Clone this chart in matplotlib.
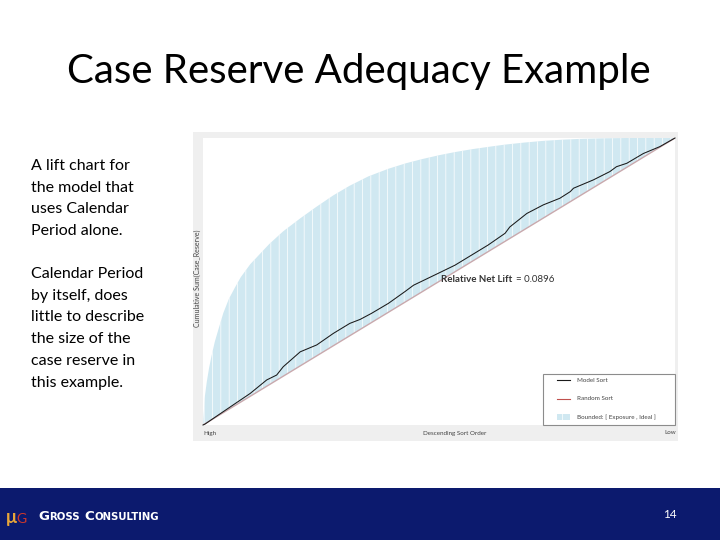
import numpy as np
import matplotlib.pyplot as plt
from matplotlib.patches import Rectangle

plt.rcParams['font.family'] = ['Lato', 'DejaVu Sans']
plt.rcParams['hatch.linewidth'] = 0.5

# ideal sort (upper bound of the shaded band)
ideal_x = [0.0, 0.004, 0.008, 0.013, 0.018, 0.025, 0.033, 0.043, 0.055, 0.068,
           0.08, 0.10, 0.12, 0.14, 0.17, 0.206, 0.24, 0.276, 0.31, 0.35,
           0.393, 0.43, 0.463, 0.50, 0.534, 0.57, 0.604, 0.64, 0.68, 0.721,
           0.76, 0.80, 0.85, 0.90, 0.95, 1.0]
ideal_y = [0.0, 0.10, 0.15, 0.20, 0.24, 0.29, 0.335, 0.39, 0.44, 0.48,
           0.515, 0.56, 0.595, 0.63, 0.675, 0.72, 0.76, 0.80, 0.833, 0.866,
           0.893, 0.912, 0.926, 0.94, 0.951, 0.961, 0.969, 0.977, 0.984, 0.99,
           0.994, 0.997, 0.999, 1.0, 1.0, 1.0]

# model sort
model_x = [0.0, 0.004, 0.064, 0.100, 0.135, 0.156, 0.170, 0.206, 0.241, 0.276,
           0.311, 0.333, 0.357, 0.393, 0.428, 0.446, 0.499, 0.534, 0.569, 0.604,
           0.640, 0.650, 0.686, 0.721, 0.756, 0.778, 0.785, 0.827, 0.862, 0.876,
           0.898, 0.933, 0.968, 1.0]
model_y = [0.0, 0.003, 0.070, 0.110, 0.157, 0.174, 0.203, 0.255, 0.279, 0.319,
           0.354, 0.368, 0.389, 0.424, 0.465, 0.487, 0.529, 0.557, 0.592, 0.627,
           0.668, 0.690, 0.737, 0.767, 0.790, 0.813, 0.825, 0.854, 0.883, 0.900,
           0.912, 0.946, 0.970, 1.0]

# random sort (exposure)
rand_x = [0.0, 1.0]
rand_y = [0.0, 1.0]

net_lift = 0.0896

legend_labels = ['Model Sort', 'Random Sort', 'Bounded: [ Exposure , Ideal ]']

left_lines_1 = ['A lift chart for', 'the model that', 'uses Calendar', 'Period alone.']
left_lines_2 = ['Calendar Period', 'by itself, does', 'little to describe',
                'the size of the', 'case reserve in', 'this example.']

W, H = 720, 540
fig = plt.figure(figsize=(7.2, 5.4), dpi=100)
fig.patch.set_facecolor('white')
renderer = fig.canvas.get_renderer()

def fx(px):
    return px / W

def fy(py):
    return 1 - py / H

BAND = '#d0e8f1'
TXT = '#444444'

# title
fig.text(fx(359), fy(83), 'Case Reserve Adequacy Example', ha='center', va='baseline',
         fontsize=29, color='black')

# left side text
for i, s in enumerate(left_lines_1):
    fig.text(fx(31), fy(170 + i * 21.7), s, ha='left', va='baseline', fontsize=11.5)
for i, s in enumerate(left_lines_2):
    fig.text(fx(31), fy(278 + i * 21.7), s, ha='left', va='baseline', fontsize=11.5)

# grey panel behind the chart
fig.patches.append(Rectangle((fx(193), fy(441)), fx(678 - 193), (441 - 132) / H,
                             transform=fig.transFigure, facecolor='#efefef',
                             edgecolor='none', zorder=-1))

ax = fig.add_axes([fx(203), fy(425), fx(675 - 203), (425 - 138) / H])
ax.set_xlim(0, 1)
ax.set_ylim(0, 1)
for sp in ax.spines.values():
    sp.set_visible(False)
ax.set_xticks([])
ax.set_yticks([])

band_x = np.concatenate([ideal_x, rand_x[::-1]])
band_y = np.concatenate([ideal_y, rand_y[::-1]])
ax.fill(band_x, band_y, facecolor=BAND, edgecolor='white', hatch='||',
        linewidth=0, zorder=1)
ax.plot(rand_x, rand_y, color='#c9a9ad', lw=1.0, zorder=2)
ax.plot(model_x, model_y, color='#1a1a1a', lw=0.75, zorder=3, clip_on=False)

# relative net lift label
t1 = fig.text(fx(441), fy(280), 'Relative Net Lift', fontsize=7, fontweight='bold',
              color='#333333', va='center', ha='left', zorder=5)
bb = t1.get_window_extent(renderer)
fig.text(bb.x1 / W + fx(4), fy(280), f'= {net_lift}', fontsize=7, color='#333333',
         va='center', ha='left', zorder=5)

# legend box (drawn by hand to match its padding)
fig.patches.append(Rectangle((fx(543), fy(425)), fx(675 - 543), (425 - 374) / H,
                             transform=fig.transFigure, facecolor='white',
                             edgecolor='#8c8c8c', linewidth=0.8, zorder=4))
leg_rows = [380, 399, 417]
fig.lines.append(plt.Line2D([fx(557), fx(570)], [fy(380), fy(380)],
                            transform=fig.transFigure, color='#1a1a1a', lw=0.8, zorder=5))
fig.lines.append(plt.Line2D([fx(557), fx(570)], [fy(399), fy(399)],
                            transform=fig.transFigure, color='#c0504d', lw=0.8, zorder=5))
fig.patches.append(Rectangle((fx(557), fy(420)), fx(13), 6 / H, transform=fig.transFigure,
                             facecolor=BAND, edgecolor='white', hatch='||',
                             linewidth=0, zorder=5))
for row, lab in zip(leg_rows, legend_labels):
    fig.text(fx(577), fy(row), lab, ha='left', va='center', fontsize=4.5,
             color=TXT, zorder=6)

# axis annotations
fig.text(fx(203), fy(433), 'High', ha='left', va='center', fontsize=4.5, color=TXT)
fig.text(fx(455), fy(433), 'Descending Sort Order', ha='center', va='center',
         fontsize=4.5, color=TXT)
fig.text(fx(676), fy(433), 'Low', ha='right', va='center', fontsize=4.5, color=TXT)
fig.text(fx(197), fy(278), 'Cumulative Sum(Case_Reserve)', ha='center', va='center',
         rotation=90, fontsize=5, color=TXT)

# footer band
fig.patches.append(Rectangle((0, 0), 1, (540 - 488) / H, transform=fig.transFigure,
                             facecolor='#0c1a6e', edgecolor='none', zorder=-1))
fig.text(fx(6), fy(518), '\u03bc', ha='left', va='center', fontsize=13,
         color='#e8a63a', fontweight='bold')
fig.text(fx(16), fy(519), 'G', ha='left', va='center', fontsize=10,
         color='#d0382b')

x = fx(38)
for s, size, gap in [('G', 9.6, 0.5), ('ROSS', 7.3, 4), ('C', 9.6, 0.5), ('ONSULTING', 7.3, 0)]:
    t = fig.text(x, fy(520), s, ha='left', va='baseline', fontsize=size,
                 fontweight='bold', color='white', family='DejaVu Sans')
    x = t.get_window_extent(renderer).x1 / W + fx(gap)

fig.text(fx(670), fy(515), '14', ha='center', va='center', fontsize=8.5, color='white')

plt.savefig('out.png', dpi=100)
